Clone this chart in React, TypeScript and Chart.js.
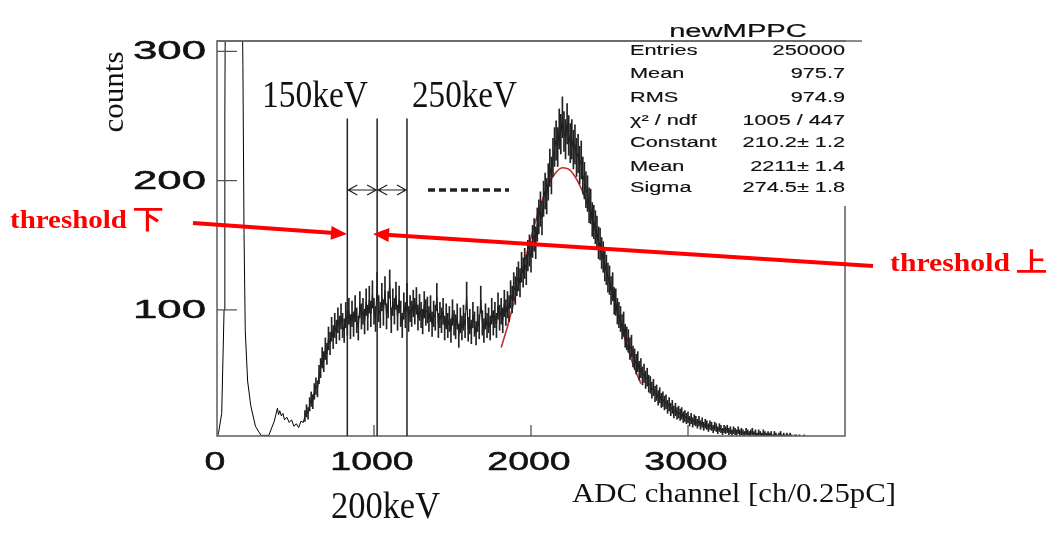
import React, { useEffect, useRef } from "react";
import { Chart, registerables } from "chart.js";
Chart.register(...registerables);

// ---- histogram: smooth low-channel part (channel, counts) ----
const leadChannels = [0, 10, 30, 45, 50, 55, 70, 100, 130, 155, 165, 172, 180, 195, 215, 245, 280, 330, 365, 385, 392, 400, 410, 420, 430, 445, 460, 475, 490, 505, 520, 535, 550];
const leadCounts = [1, 5, 20, 100, 250, 400, 540, 600, 540, 400, 290, 160, 84, 45, 26, 10, 3, 3, 14, 24, 19, 22, 18, 20, 15, 17, 13, 15, 10, 12, 9, 14, 13];

// ---- histogram: noisy part, 10-channel bins starting at channel 560 ----
const noisyStart = 560;
const binWidth = 10;
const noisyCounts = [
  18, 22, 20, 27, 31, 29, 37, 41, 39, 50,
  55, 63, 60, 70, 66, 78, 74, 85, 79, 88,
  83, 92, 86, 95, 88, 84, 96, 90, 99, 87,
  97, 89, 101, 92, 86, 104, 95, 99, 91, 106,
  94, 108, 97, 112, 99, 93, 118, 101, 96, 110,
  98, 115, 95, 104, 120, 92, 106, 99, 111, 94,
  108, 97, 88, 103, 96, 110, 93, 101, 97, 105,
  99, 107, 94, 102, 96, 91, 104, 98, 100, 93,
  101, 89, 97, 94, 110, 88, 96, 92, 99, 86,
  95, 88, 93, 84, 98, 90, 87, 95, 80, 92,
  86, 94, 88, 111, 85, 91, 83, 96, 89, 82,
  93, 87, 108, 90, 84, 95, 88, 92, 86, 99,
  90, 96, 88, 103, 94, 99, 92, 105, 98, 104,
  101, 112, 108, 118, 115, 122, 126, 121, 133, 129,
  136, 131, 142, 146, 141, 153, 158, 152, 166, 172,
  178, 171, 186, 192, 188, 199, 210, 204, 218, 226,
  231, 226, 240, 236, 249, 238, 232, 244, 235, 229,
  232, 224, 228, 218, 221, 212, 216, 204, 200, 193,
  190, 181, 180, 170, 168, 164, 160, 152, 151, 144,
  141, 134, 131, 125, 123, 115, 118, 107, 106, 99,
  96, 93, 87, 89, 80, 78, 76, 70, 72, 64,
  62, 58, 60, 53, 55, 49, 51, 46, 48, 43,
  42, 38, 40, 35, 36, 32, 34, 30, 31, 28,
  29, 25, 27, 23, 25, 21, 23, 20, 21, 19,
  20, 17, 18, 16, 17, 14, 16, 13, 15, 14,
  12, 14, 11, 13, 10, 12, 11, 9, 11, 10,
  8, 10, 9, 7, 9, 8, 6, 8, 7, 8,
  6, 7, 5, 7, 6, 5, 7, 5, 6, 5,
  4, 6, 5, 4, 5, 6, 4, 5, 3, 5,
  4, 3, 5, 4, 3, 4, 3, 4, 2, 4,
  3, 2, 3, 4, 2, 3, 2, 3, 2, 3,
  2, 1, 2, 2, 1, 2, 1, 1, 2, 1,
];

// ---- gaussian fit curve ----
const fitChannels = [1810, 1850, 1900, 1950, 2000, 2050, 2100, 2150, 2200, 2250, 2300, 2350, 2400, 2450, 2500, 2550, 2600, 2650, 2700];
const fitCounts = [71, 87, 110, 133, 156, 177, 194, 205, 210, 208, 199, 185, 166, 144, 121, 98, 77, 58, 43];

// ---- axes ----
const xTickValues = [0, 1000, 2000, 3000];
const yTickValues = [100, 200, 300];

// ---- annotations ----
const keVChannels = [830, 1020, 1210];
const keVLineTop = 248;
const statTitle = "newMPPC";
const statLabels = ["Entries", "Mean", "RMS", "\u03c7\u00b2 / ndf", "Constant", "Mean", "Sigma"];
const statValues = ["250000", "975.7", "974.9", "1005 / 447", "210.2\u00b1 1.2", "2211\u00b1 1.4", "274.5\u00b1 1.8"];

function drawText(
  ctx: CanvasRenderingContext2D,
  text: string,
  x: number,
  y: number,
  font: string,
  color: string,
  opts: { width?: number; sx?: number; align?: "left" | "center" | "right"; stroke?: number }
) {
  ctx.save();
  ctx.font = font;
  ctx.fillStyle = color;
  ctx.strokeStyle = color;
  ctx.textBaseline = "alphabetic";
  ctx.textAlign = "left";
  const w = ctx.measureText(text).width;
  const sx = opts.width ? opts.width / w : opts.sx || 1;
  const tw = w * sx;
  const align = opts.align || "left";
  const left = align === "left" ? x : align === "center" ? x - tw / 2 : x - tw;
  ctx.translate(left, y);
  ctx.scale(sx, 1);
  ctx.fillText(text, 0, 0);
  if (opts.stroke) {
    ctx.lineWidth = opts.stroke;
    ctx.lineJoin = "round";
    ctx.strokeText(text, 0, 0);
  }
  ctx.restore();
}

function redArrow(ctx: CanvasRenderingContext2D, x1: number, y1: number, x2: number, y2: number) {
  const ang = Math.atan2(y2 - y1, x2 - x1);
  const len = 16;
  const hw = 7;
  ctx.save();
  ctx.strokeStyle = "#ff0000";
  ctx.fillStyle = "#ff0000";
  ctx.lineWidth = 4;
  ctx.beginPath();
  ctx.moveTo(x1, y1);
  ctx.lineTo(x2 - Math.cos(ang) * len * 0.8, y2 - Math.sin(ang) * len * 0.8);
  ctx.stroke();
  ctx.beginPath();
  ctx.moveTo(x2, y2);
  ctx.lineTo(x2 - Math.cos(ang) * len - Math.sin(ang) * hw, y2 - Math.sin(ang) * len + Math.cos(ang) * hw);
  ctx.lineTo(x2 - Math.cos(ang) * len + Math.sin(ang) * hw, y2 - Math.sin(ang) * len - Math.cos(ang) * hw);
  ctx.closePath();
  ctx.fill();
  ctx.restore();
}

function doubleArrow(ctx: CanvasRenderingContext2D, xa: number, xb: number, y: number) {
  ctx.beginPath();
  ctx.moveTo(xa, y);
  ctx.lineTo(xb, y);
  ctx.moveTo(xa + 10, y - 5);
  ctx.lineTo(xa + 1, y);
  ctx.lineTo(xa + 10, y + 5);
  ctx.moveTo(xb - 10, y - 5);
  ctx.lineTo(xb - 1, y);
  ctx.lineTo(xb - 10, y + 5);
  ctx.stroke();
}

const overlayPlugin = {
  id: "overlay",
  afterDraw(chart: any) {
    const ctx: CanvasRenderingContext2D = chart.ctx;
    const { left, right, top, bottom } = chart.chartArea;
    const xs = chart.scales.x;
    const ys = chart.scales.y;
    const sans = "Liberation Sans, Arial, sans-serif";
    const serif = "Liberation Serif, Times New Roman, serif";

    // frame
    ctx.save();
    ctx.strokeStyle = "#666";
    ctx.lineWidth = 1.6;
    ctx.strokeRect(left, top, right - left, bottom - top);
    // inward ticks
    ctx.strokeStyle = "#555";
    ctx.lineWidth = 1.3;
    ctx.beginPath();
    yTickValues.forEach((v) => {
      const py = ys.getPixelForValue(v);
      ctx.moveTo(left, py);
      ctx.lineTo(left + 20, py);
    });
    xTickValues.forEach((v) => {
      if (v === 0) return;
      const px = xs.getPixelForValue(v);
      ctx.moveTo(px, bottom);
      ctx.lineTo(px, bottom - 11);
    });
    ctx.stroke();
    ctx.restore();

    // tick labels (stretched Helvetica look)
    yTickValues.forEach((v) => {
      drawText(ctx, String(v), 206, ys.getPixelForValue(v) + 8, `25px ${sans}`, "#111", { sx: 1.75, align: "right", stroke: 0.5 });
    });
    xTickValues.forEach((v) => {
      drawText(ctx, String(v), xs.getPixelForValue(v) - 2, 470, `25px ${sans}`, "#111", { sx: 1.5, align: "center", stroke: 0.5 });
    });

    // stats box
    ctx.save();
    ctx.fillStyle = "#fff";
    ctx.fillRect(614, top + 1, 250, 205 - top);
    ctx.strokeStyle = "#666";
    ctx.lineWidth = 1.6;
    ctx.beginPath();
    ctx.moveTo(left, top);
    ctx.lineTo(862, top);
    ctx.stroke();
    ctx.restore();
    drawText(ctx, statTitle, 738, 37, `18px ${sans}`, "#111", { sx: 1.62, align: "center", stroke: 0.2 });
    const baselines = [55, 78, 102, 125, 147, 171, 192];
    statLabels.forEach((t, i) => {
      drawText(ctx, t, 630, baselines[i], `14px ${sans}`, "#111", { sx: 1.55, align: "left", stroke: 0.15 });
    });
    statValues.forEach((t, i) => {
      drawText(ctx, t, 845, baselines[i], `14px ${sans}`, "#111", { sx: 1.55, align: "right", stroke: 0.15 });
    });

    // axis titles
    ctx.save();
    ctx.translate(123, 92);
    ctx.rotate(-Math.PI / 2);
    drawText(ctx, "counts", 0, 0, `30px ${serif}`, "#111", { width: 81, align: "center" });
    ctx.restore();
    drawText(ctx, "ADC channel [ch/0.25pC]", 572, 502, `28px ${serif}`, "#111", { width: 324, align: "left" });

    // keV lines
    ctx.save();
    ctx.strokeStyle = "#222";
    ctx.lineWidth = 1.5;
    const lx = keVChannels.map((c) => xs.getPixelForValue(c));
    const ly = ys.getPixelForValue(keVLineTop);
    ctx.beginPath();
    lx.forEach((x) => {
      ctx.moveTo(x, ly);
      ctx.lineTo(x, bottom);
    });
    ctx.stroke();
    ctx.lineWidth = 1.2;
    doubleArrow(ctx, lx[0], lx[1], 190);
    doubleArrow(ctx, lx[1], lx[2], 190);
    ctx.lineWidth = 3.5;
    ctx.setLineDash([7, 4]);
    ctx.beginPath();
    ctx.moveTo(428, 190);
    ctx.lineTo(509, 190);
    ctx.stroke();
    ctx.restore();

    drawText(ctx, "150keV", 262, 107, `38px ${serif}`, "#111", { width: 106, align: "left" });
    drawText(ctx, "250keV", 412, 107, `38px ${serif}`, "#111", { width: 105, align: "left" });
    drawText(ctx, "200keV", 331, 518, `38px ${serif}`, "#111", { width: 109, align: "left" });

    // red annotations
    drawText(ctx, "threshold \u4e0b", 10, 228, `bold 26px ${serif}`, "#ff0000", { width: 153, align: "left" });
    drawText(ctx, "threshold \u4e0a", 890, 271, `bold 26px ${serif}`, "#ff0000", { width: 157, align: "left" });
    redArrow(ctx, 193, 223, 347, 234);
    redArrow(ctx, 873, 266, 373, 234);
  },
};

export default function App() {
  const ref = useRef<HTMLCanvasElement | null>(null);
  useEffect(() => {
    if (!ref.current) return;
    const hist: { x: number; y: number }[] = [];
    leadChannels.forEach((c, i) => hist.push({ x: c, y: leadCounts[i] }));
    noisyCounts.forEach((v, i) => hist.push({ x: noisyStart + i * binWidth, y: v }));
    const errors = noisyCounts.map((v, i) => ({
      x: noisyStart + i * binWidth,
      y: [v - Math.sqrt(v), v + Math.sqrt(v)],
    }));
    const fit = fitChannels.map((c, i) => ({ x: c, y: fitCounts[i] }));

    const chart = new Chart(ref.current, {
      type: "line",
      data: {
        datasets: [
          {
            type: "bar",
            data: errors as any,
            backgroundColor: "#222",
            borderWidth: 0,
            barThickness: 1,
            grouped: false,
          } as any,
          {
            data: hist,
            borderColor: "#000",
            borderWidth: 1,
            pointRadius: 0,
            tension: 0,
          },
          {
            data: fit,
            borderColor: "rgb(196,48,48)",
            borderWidth: 1.6,
            pointRadius: 0,
            cubicInterpolationMode: "monotone",
          },
        ],
      },
      options: {
        animation: false,
        responsive: false,
        devicePixelRatio: 1,
        events: [],
        layout: { padding: { left: 217, right: 211, top: 41, bottom: 108 } },
        plugins: { legend: { display: false }, tooltip: { enabled: false } },
        scales: {
          x: { type: "linear", display: false, min: 0, max: 4000, offset: false },
          y: { type: "linear", display: false, min: 2.5, max: 308 },
        },
      },
      plugins: [overlayPlugin],
    });
    return () => chart.destroy();
  }, []);
  return (
    <div style={{ position: "fixed", left: 0, top: 0, width: 1056, height: 544, background: "#fff" }}>
      <canvas ref={ref} width={1056} height={544} style={{ display: "block" }} />
    </div>
  );
}
